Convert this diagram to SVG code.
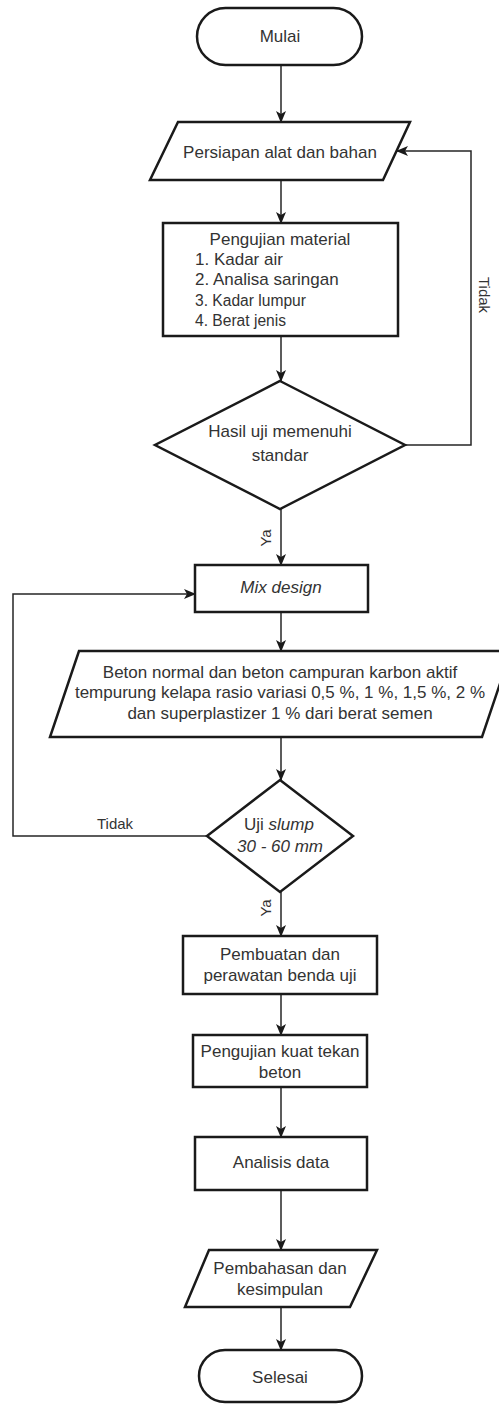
<svg xmlns="http://www.w3.org/2000/svg" width="499" height="1404" viewBox="0 0 499 1404">
<defs>
<style>
.shape{fill:#ffffff;stroke:#1a1a1a;stroke-width:2.5;}
.conn{fill:none;stroke:#262626;stroke-width:1.5;}
text{font-family:"Liberation Sans",Arial,sans-serif;font-size:17px;fill:#333333;}
.c{text-anchor:middle;}
.i{font-style:italic;}
.s{font-size:15.6px;}
.lbl{font-size:15px;}
</style>
<marker id="arr" viewBox="0 0 12 12" refX="11" refY="6" markerWidth="12" markerHeight="12" markerUnits="userSpaceOnUse" orient="auto">
<path d="M0,1 L12,6 L0,11 L3,6 Z" fill="#1a1a1a"/>
</marker>
</defs>
<rect width="499" height="1404" fill="#ffffff"/>

<g id="connectors">
<path class="conn" d="M281,65 L281,122" marker-end="url(#arr)"/>
<path class="conn" d="M281,180 L281,223" marker-end="url(#arr)"/>
<path class="conn" d="M281,336 L281,381" marker-end="url(#arr)"/>
<path class="conn" d="M405,445 L471,445 L471,151 L397,151" marker-end="url(#arr)"/>
<path class="conn" d="M281,509 L281,565" marker-end="url(#arr)"/>
<path class="conn" d="M281,612 L281,651" marker-end="url(#arr)"/>
<path class="conn" d="M281,737 L281,780" marker-end="url(#arr)"/>
<path class="conn" d="M207,836 L13,836 L13,594 L195,594" marker-end="url(#arr)"/>
<path class="conn" d="M281,892 L281,936" marker-end="url(#arr)"/>
<path class="conn" d="M281,994 L281,1035" marker-end="url(#arr)"/>
<path class="conn" d="M281,1087 L281,1137" marker-end="url(#arr)"/>
<path class="conn" d="M281,1190 L281,1250" marker-end="url(#arr)"/>
<path class="conn" d="M281,1307 L281,1350" marker-end="url(#arr)"/>
<text class="lbl c" transform="translate(478.5,295) rotate(90)">Tidak</text>
<text class="lbl c" transform="translate(271,538) rotate(-90)">Ya</text>
<text class="lbl" x="97" y="829">Tidak</text>
<text class="lbl c" transform="translate(271,908) rotate(-90)">Ya</text>
</g>

<g id="mulai">
<rect class="shape" x="197" y="8" width="165" height="57" rx="28.5" ry="28.5"/>
<text class="c" x="280" y="42">Mulai</text>
</g>

<g id="persiapan">
<polygon class="shape" points="178,122 410,122 383,180 150,180"/>
<text class="c" x="280" y="158">Persiapan alat dan bahan</text>
</g>

<g id="pengujian-material">
<rect class="shape" x="163" y="223" width="235" height="113"/>
<text class="c" x="280" y="245">Pengujian material</text>
<text x="195" y="265">1. Kadar air</text>
<text x="195" y="285">2. Analisa saringan</text>
<text class="s" x="195" y="306">3. Kadar lumpur</text>
<text class="s" x="195" y="326">4. Berat jenis</text>
</g>

<g id="hasil-uji">
<polygon class="shape" points="280,381 405,445 280,509 155,445"/>
<text class="c" x="280" y="437">Hasil uji memenuhi</text>
<text class="c" x="280" y="461">standar</text>
</g>

<g id="mix-design">
<rect class="shape" x="195" y="565" width="173" height="47"/>
<text class="c i" x="281" y="593">Mix design</text>
</g>

<g id="beton">
<polygon class="shape" points="79,651 511,651 482,737 50,737"/>
<text class="c" x="280" y="678">Beton normal dan beton campuran karbon aktif</text>
<text class="c" x="280" y="698">tempurung kelapa rasio variasi 0,5 %, 1 %, 1,5 %, 2 %</text>
<text class="c" x="280" y="719">dan superplastizer 1 % dari berat semen</text>
</g>

<g id="uji-slump">
<polygon class="shape" points="280,780 353,836 280,892 207,836"/>
<text class="c" x="279" y="830">Uji <tspan class="i">slump</tspan></text>
<text class="c i" x="280" y="852">30 - 60 mm</text>
</g>

<g id="pembuatan">
<rect class="shape" x="183" y="936" width="194" height="58"/>
<text class="c" x="280" y="960">Pembuatan dan</text>
<text class="c" x="280" y="981">perawatan benda uji</text>
</g>

<g id="kuat-tekan">
<rect class="shape" x="193" y="1035" width="174" height="52"/>
<text class="c" x="280" y="1057">Pengujian kuat tekan</text>
<text class="c" x="280" y="1078">beton</text>
</g>

<g id="analisis">
<rect class="shape" x="195" y="1137" width="172" height="53"/>
<text class="c" x="281" y="1168">Analisis data</text>
</g>

<g id="pembahasan">
<polygon class="shape" points="209,1250 377,1250 350,1307 185,1307"/>
<text class="c" x="280" y="1274">Pembahasan dan</text>
<text class="c" x="280" y="1295">kesimpulan</text>
</g>

<g id="selesai">
<rect class="shape" x="199" y="1350" width="163" height="52" rx="26" ry="26"/>
<text class="c" x="280" y="1383">Selesai</text>
</g>
</svg>
